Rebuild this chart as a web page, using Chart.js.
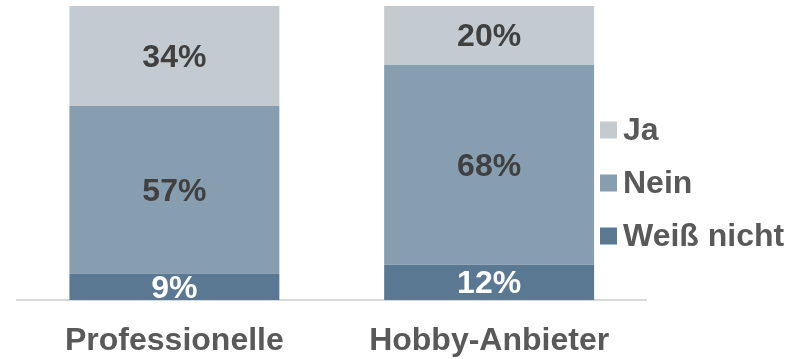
<!DOCTYPE html>
<html>
<head>
<meta charset="utf-8">
<script src="https://cdn.jsdelivr.net/npm/chart.js@4.4.1/dist/chart.umd.min.js"></script>
<style>
  html, body { margin: 0; padding: 0; background: #ffffff; }
  #wrap { width: 799px; height: 359px; }
</style>
</head>
<body>
<div id="wrap"><canvas id="c" width="799" height="359"></canvas></div>
<script>
const categories = ["Professionelle", "Hobby-Anbieter"];
const weissNicht = [9, 12];
const nein = [57, 68];
const ja = [34, 20];
const seriesNames = ["Weiß nicht", "Nein", "Ja"];
const seriesColors = ["#5b7893", "#869eb0", "#c3cbd1"];
const labelColors = ["#ffffff", "#404040", "#404040"];

const FONT = "'Liberation Sans', Arial, Helvetica, sans-serif";
const FS = 32;

const dataLabelPlugin = {
  id: 'dataLabels',
  afterDatasetsDraw(chart) {
    const ctx = chart.ctx;
    const ca = chart.chartArea;
    ctx.save();
    ctx.beginPath();
    ctx.rect(ca.left, ca.top, ca.right - ca.left, ca.bottom - ca.top);
    ctx.clip();
    ctx.font = "bold " + FS + "px " + FONT;
    ctx.textAlign = 'center';
    ctx.textBaseline = 'middle';
    chart.data.datasets.forEach((ds, di) => {
      const meta = chart.getDatasetMeta(di);
      meta.data.forEach((bar, i) => {
        const y = (bar.y + bar.base) / 2;
        ctx.fillStyle = labelColors[di];
        ctx.fillText(ds.data[i] + '%', bar.x, y + 2);
      });
    });
    ctx.restore();
  }
};

const legendPlugin = {
  id: 'customLegend',
  afterDraw(chart) {
    const ctx = chart.ctx;
    ctx.save();
    ctx.font = "bold " + FS + "px " + FONT;
    ctx.textAlign = 'left';
    ctx.textBaseline = 'middle';
    const x0 = 600, box = 17;
    const ys = [130, 183, 236];
    const order = [2, 1, 0];
    order.forEach((di, k) => {
      const ds = chart.data.datasets[di];
      ctx.fillStyle = ds.backgroundColor;
      ctx.fillRect(x0, ys[k] - box / 2, box, box);
      ctx.fillStyle = '#595959';
      ctx.fillText(ds.label, x0 + 23, ys[k] + 1);
    });
    ctx.restore();
  }
};

new Chart(document.getElementById('c'), {
  type: 'bar',
  data: {
    labels: categories,
    datasets: [
      { label: seriesNames[0], data: weissNicht, backgroundColor: seriesColors[0] },
      { label: seriesNames[1], data: nein, backgroundColor: seriesColors[1] },
      { label: seriesNames[2], data: ja, backgroundColor: seriesColors[2] }
    ]
  },
  options: {
    responsive: false,
    animation: false,
    devicePixelRatio: 1,
    layout: { padding: { left: 17, right: 152.5, top: 6, bottom: 0 } },
    datasets: { bar: { barPercentage: 0.667, categoryPercentage: 1.0, borderWidth: 0 } },
    plugins: { legend: { display: false }, tooltip: { enabled: false } },
    scales: {
      x: {
        stacked: true,
        afterFit(scale) { scale.height = 59; },
        grid: { display: false, drawTicks: false },
        border: { display: true, color: '#d9d9d9', width: 2 },
        ticks: { color: '#595959', font: { family: FONT, size: FS, weight: 'bold' }, padding: 22 }
      },
      y: {
        stacked: true,
        display: false,
        min: 0,
        max: 100
      }
    }
  },
  plugins: [dataLabelPlugin, legendPlugin]
});
</script>
</body>
</html>
